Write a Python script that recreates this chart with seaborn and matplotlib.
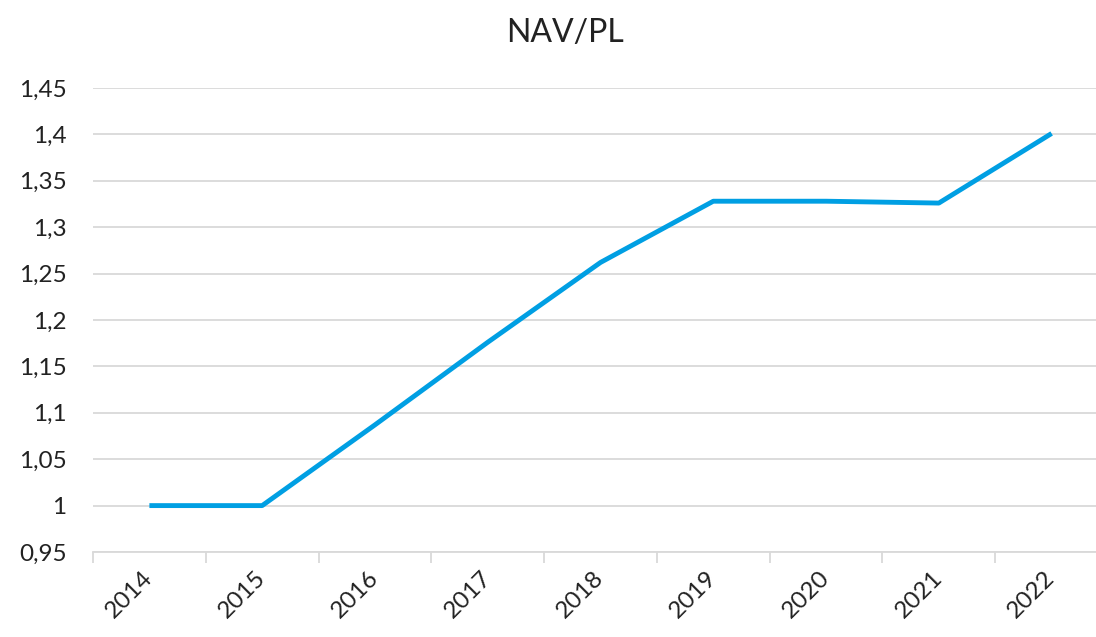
import pandas as pd
import matplotlib
matplotlib.use("Agg")
import matplotlib.pyplot as plt
import seaborn as sns
from matplotlib.ticker import FuncFormatter, FixedLocator

years = ["2014", "2015", "2016", "2017", "2018", "2019", "2020", "2021", "2022"]
nav_pl = [1.0, 1.0, 1.087, 1.176, 1.262, 1.328, 1.328, 1.326, 1.401]

df = pd.DataFrame({"year": years, "nav": nav_pl})

sns.set_style("white")
plt.rcParams["font.family"] = ["Lato", "DejaVu Sans"]

fig = plt.figure(figsize=(10.96, 6.37), dpi=100)
ax = fig.add_axes([93 / 1096, 85 / 637, 1015 / 1096, 464 / 637])

sns.lineplot(data=df, x="year", y="nav", ax=ax, color="#009fe3", linewidth=3.5,
             sort=False, solid_capstyle="butt")

ax.set_xlim(-0.5, len(years) - 0.5)
ax.set_ylim(0.95, 1.45)
ax.set_yticks([0.95 + 0.05 * i for i in range(11)])
ax.yaxis.set_major_formatter(FuncFormatter(lambda v, p: ("%g" % round(v, 2)).replace(".", ",")))
ax.grid(axis="y", color="#d9d9d9", linewidth=1.3)
ax.set_axisbelow(True)

# category labels at centers, tick marks at band boundaries
ax.set_xticks(range(len(years)))
ax.set_xticklabels(years, rotation=45, ha="right", va="center", rotation_mode="anchor",
                   fontsize=17.5, color="#222222")
ax.xaxis.set_minor_locator(FixedLocator([i - 0.5 for i in range(len(years) + 1)]))
ax.tick_params(axis="x", which="both", bottom=True)
ax.tick_params(axis="x", which="major", length=0, pad=16)
ax.tick_params(axis="x", which="minor", length=8, width=1.3, color="#d9d9d9")
ax.tick_params(axis="y", length=0, pad=19, labelsize=17.5, labelcolor="#222222")

for s in ["top", "right", "left"]:
    ax.spines[s].set_visible(False)
ax.spines["bottom"].set_color("#d9d9d9")
ax.spines["bottom"].set_linewidth(1.3)

ax.set_xlabel("")
ax.set_ylabel("")
fig.text(565 / 1096, 1 - 33 / 637, "NAV/PL", ha="center", va="center", fontsize=23,
         color="#222222")

fig.savefig("out.png", dpi=100)
